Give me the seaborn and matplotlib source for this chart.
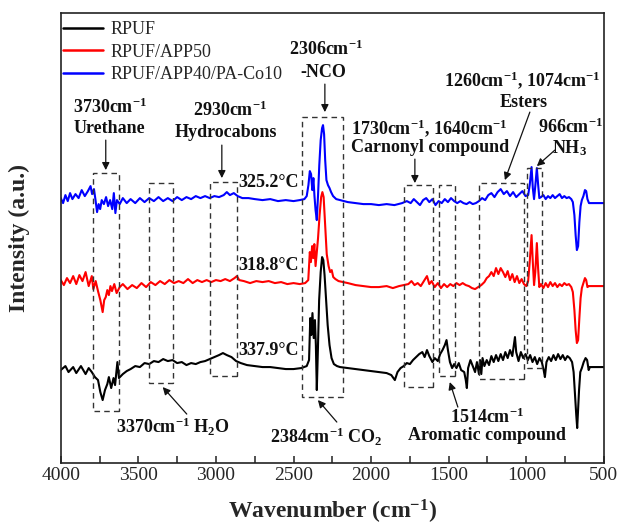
import numpy as np
import pandas as pd
import matplotlib
matplotlib.use("Agg")
import matplotlib.pyplot as plt
from matplotlib.patches import Rectangle
import seaborn as sns

# ---------------- data ----------------
samples = ["RPUF", "RPUF/APP50", "RPUF/APP40/PA-Co10"]
colors = ["#000000", "#ff0000", "#0000ff"]
temps = ["337.9°C", "318.8°C", "325.2°C"]

black_wn = [4000, 3970, 3950, 3920, 3900, 3870, 3840, 3820, 3800, 3780, 3760, 3745, 3730, 3715,
            3700, 3690, 3675, 3660, 3650, 3635, 3625, 3600, 3575, 3550, 3520, 3490, 3460, 3430,
            3400, 3370, 3340, 3310, 3280, 3250, 3220, 3190, 3160, 3130, 3100, 3070, 3040, 3010,
            2980, 2955, 2930, 2900, 2870, 2840, 2800, 2750, 2700, 2650, 2600, 2550, 2500, 2450,
            2415, 2400, 2392, 2386, 2378, 2370, 2362, 2356, 2350, 2343, 2335, 2325, 2316, 2308,
            2300, 2290, 2280, 2268, 2255, 2240, 2220, 2200, 2150, 2100, 2050, 2000, 1950, 1900,
            1870, 1847, 1830, 1810, 1790, 1770, 1750, 1730, 1710, 1690, 1670, 1655, 1640, 1625,
            1605, 1590, 1570, 1555, 1540, 1525, 1514, 1505, 1492, 1478, 1465, 1450, 1435, 1420,
            1400, 1390, 1383, 1375, 1360, 1345, 1330, 1318, 1305, 1298, 1290, 1282, 1270, 1255,
            1240, 1225, 1210, 1195, 1180, 1165, 1150, 1135, 1120, 1105, 1090, 1080, 1073, 1065,
            1050, 1035, 1020, 1005, 990, 975, 960, 945, 930, 915, 900, 888, 880, 870, 855, 840,
            825, 810, 795, 780, 765, 750, 735, 720, 705, 695, 686, 678, 672, 666, 660, 652, 642,
            630, 618, 608, 598, 590, 580, 500]
black_int = [-2, 2, -4, 1, -5, 2, -6, 0, -4, -9, -12, -24, -32, -22,
             -16, -9, -20, -10, -17, 6, -10, -6, -3, -1, 2, 1, 5, 4,
             7, 6, 9, 7, 8, 5, 6, 3, 5, 4, 6, 7, 9, 11,
             13, 15, 13, 11, 7, 5, 3, 2, 1, 1, 0, -1, -1, 0,
             2, 8, 50, 33, 55, 30, 48, 23, -22, 18, 68, 96, 111, 108,
             93, 68, 43, 23, 10, 4, 2, 1, 0, -1, -2, -3, -4, -5,
             -7, -12, -4, 0, 2, 5, 4, 8, 11, 14, 16, 11, 18, 12,
             6, 10, 7, 14, 18, 23, 28, 18, 6, 0, 4, 0, 5, -2,
             -4, -12, -20, 0, 8, 2, -4, 6, -6, 8, -6, 10, 2, 8,
             3, 12, 6, 13, 7, 14, 8, 16, 10, 18, 12, 23, 31, 16,
             7, 16, 10, 14, 8, 13, 6, 11, 4, 10, 6, -2, -9, 6, 11, 7,
             13, 8, 14, 9, 13, 8, 12, 10, 6, -4, -27, -47, -60, -42, -22, -4, 0,
             6, 10, 8, -2, 1, 1, 1]

red_wn = [4000, 3980, 3960, 3940, 3920, 3900, 3880, 3860, 3840, 3820, 3800, 3790, 3775, 3760,
          3745, 3730, 3720, 3710, 3700, 3690, 3680, 3670, 3655, 3640, 3620, 3600, 3570, 3540,
          3510, 3480, 3450, 3420, 3390, 3360, 3330, 3300, 3270, 3240, 3210, 3180, 3150, 3120,
          3090, 3060, 3030, 3000, 2970, 2940, 2910, 2880, 2865, 2850, 2820, 2780, 2740, 2700,
          2660, 2620, 2580, 2540, 2500, 2460, 2425, 2405, 2395, 2388, 2380, 2373, 2366, 2358,
          2350, 2342, 2332, 2322, 2314, 2306, 2296, 2286, 2274, 2264, 2254, 2244, 2230, 2210,
          2180, 2150, 2100, 2050, 2000, 1950, 1900, 1860, 1820, 1790, 1760, 1740, 1720, 1700,
          1680, 1660, 1640, 1625, 1610, 1590, 1570, 1550, 1530, 1510, 1490, 1470, 1450, 1430,
          1410, 1390, 1370, 1350, 1330, 1310, 1290, 1270, 1255, 1240, 1225, 1210, 1195, 1180,
          1165, 1150, 1135, 1120, 1105, 1090, 1075, 1060, 1045, 1030, 1015, 1000, 988, 978,
          966, 958, 950, 942, 932, 924, 916, 905, 890, 875, 860, 845, 830, 815, 800, 785, 770,
          755, 740, 725, 710, 700, 690, 682, 674, 666, 658, 650, 642, 632, 622, 614, 606, 596,
          500]
red_int = [3, -2, 5, 0, 7, -1, 8, 2, 11, -3, 7, -6, 2, -8,
           -17, -29, -17, -14, -7, -12, -3, -8, -1, -10, -4, -1, -6, -2,
           -5, 0, -4, 1, -2, 2, -1, 3, 0, 2, 0, 4, 0, 3,
           1, 3, 1, 3, 2, 4, 2, 5, 7, 3, 2, 0, 2, 1,
           2, 0, 1, -1, 0, -1, 0, 3, 31, 21, 37, 25, 39, 17,
           31, 45, 68, 86, 91, 86, 58, 29, 17, 11, 13, 6, 4, 2,
           1, 0, -2, -3, -4, -4, -3, -5, -3, -2, -1, 2, -2, 0,
           -3, 2, 7, -1, 2, -4, 0, -5, -1, -4, -1, -3, 0, -2,
           0, -2, -3, -5, -6, -4, -2, 1, 5, 7, 11, 7, 15, 9,
           15, 11, 6, 12, 3, 9, 1, 7, 0, 4, -1, -3, 2, 21,
           48, 21, -2, 11, 40, 15, -4, -1, -5, 0, -4, 1, -3, 0, -4, -1, -3,
           0, -2, -1, -4, -9, -27, -47, -60, -57, -35, -15, -5, 0, 5, 3, -4, -3,
           -3]

blue_wn = [4000, 3985, 3970, 3955, 3940, 3925, 3905, 3885, 3865, 3845, 3825, 3808, 3798, 3786,
           3776, 3766, 3756, 3746, 3736, 3722, 3708, 3695, 3682, 3668, 3658, 3648, 3638, 3620,
           3600, 3575, 3550, 3520, 3490, 3460, 3430, 3400, 3370, 3340, 3310, 3280, 3250, 3220,
           3190, 3160, 3130, 3100, 3070, 3040, 3010, 2980, 2950, 2930, 2910, 2885, 2860, 2830,
           2790, 2750, 2700, 2650, 2600, 2550, 2500, 2460, 2430, 2415, 2404, 2395, 2387, 2379,
           2372, 2365, 2358, 2350, 2342, 2334, 2325, 2316, 2310, 2303, 2296, 2288, 2278, 2268,
           2258, 2245, 2225, 2200, 2150, 2100, 2050, 2000, 1950, 1900, 1850, 1800, 1770, 1745,
           1725, 1705, 1685, 1665, 1645, 1625, 1605, 1585, 1565, 1545, 1525, 1505, 1485, 1465,
           1445, 1425, 1405, 1385, 1365, 1345, 1325, 1305, 1285, 1265, 1245, 1225, 1205, 1185,
           1165, 1145, 1125, 1105, 1085, 1065, 1045, 1025, 1005, 988, 978, 966, 958, 950, 942,
           932, 924, 916, 905, 890, 875, 860, 845, 830, 815, 800, 785, 770, 755, 740, 725, 710,
           700, 690, 682, 674, 666, 658, 650, 642, 632, 622, 614, 606, 596, 500]
blue_int = [2, -3, 5, -1, 7, 1, 6, 2, 10, 4, 9, 14, 6, 11,
            0, -12, -4, -9, 0, -4, 3, -6, 0, -9, 7, -13, 0, -4,
            2, -3, 1, -3, 2, -2, 2, -1, 3, -1, 2, -1, 3, 0,
            3, 1, 4, 2, 4, 2, 4, 3, 5, 8, 5, 7, 4, 2,
            2, 1, 0, 1, -1, 0, -1, 0, 1, 4, 15, 29, 26, 10,
            22, 4, -10, -20, 5, 35, 60, 72, 75, 66, 40, 20, 15, 12,
            8, 4, 1, 0, -2, -3, -4, -4, -5, -4, -5, -3, -1, -3,
            1, -2, -5, 0, 2, -2, 1, -5, -1, -3, 1, -2, 2, -1,
            -3, -1, -3, -4, -2, -4, -3, -1, 2, 0, 5, 7, 3, 8,
            11, 6, 9, 4, 8, 3, 6, 9, 4, 5, 15, 33, 12, 1, 14,
            32, 16, 2, 3, 5, 1, 4, 2, 5, 2, 4, 6, 2, 4, 2, 3, 1,
            -2, -15, -35, -50, -46, -22, -6, 0, 4, 10, 9, 1, -3, -3]

xticks = [4000, 3500, 3000, 2500, 2000, 1500, 1000, 500]

# ---------------- styling / layout ----------------
offsets = {"RPUF": 95, "RPUF/APP50": 180, "RPUF/APP40/PA-Co10": 263}

sns.set_theme(style="ticks")
plt.rcParams["font.family"] = ["Liberation Serif", "DejaVu Serif"]
plt.rcParams["mathtext.fontset"] = "custom"
plt.rcParams["mathtext.rm"] = "Liberation Serif"
plt.rcParams["mathtext.bf"] = "Liberation Serif:bold"
plt.rcParams["mathtext.it"] = "Liberation Serif:italic"

frames = []
for name, wn, inten in zip(samples, [black_wn, red_wn, blue_wn], [black_int, red_int, blue_int]):
    frames.append(pd.DataFrame({"wn": wn, "y": np.array(inten) + offsets[name], "sample": name}))
df = pd.concat(frames, ignore_index=True)

fig = plt.figure(figsize=(6.2, 5.25), dpi=100)
ax = fig.add_axes([0.098, 0.118, 0.876, 0.857])

sns.lineplot(data=df, x="wn", y="y", hue="sample", hue_order=samples,
             palette=dict(zip(samples, colors)), estimator=None, sort=False,
             lw=1.5, ax=ax)

ax.set_xlim(4000, 500)
ax.set_ylim(0, 450)
ax.set_xticks(xticks)
ax.set_xticks(np.arange(3750, 500, -500), minor=True)
ax.set_xticklabels([str(t) for t in xticks], fontsize=14)
ax.set_yticks([])
ax.tick_params(axis="x", which="both", direction="in", length=5, width=1.1, pad=3, color="#222")
for s in ax.spines.values():
    s.set_linewidth(1.2)
    s.set_color("#222")
ax.set_xlabel(r"Wavenumber (cm$^{\mathbf{-1}}$)", fontsize=17, fontweight="bold", labelpad=10)
ax.set_ylabel("Intensity (a.u.)", fontsize=17, fontweight="bold", labelpad=22)

leg = ax.legend(loc="upper left", frameon=False, fontsize=13, handlelength=2.2,
                handletextpad=0.4, labelspacing=0.3, borderaxespad=0.0,
                borderpad=0.45, bbox_to_anchor=(-0.01, 1.0))
for lh in leg.get_lines():
    lh.set_linewidth(1.8)

# dashed boxes (wn_left, wn_right, y_bottom, y_top)
boxes = [(3794, 3626, 52, 290), (3433, 3278, 80, 280), (3040, 2866, 87, 281),
         (2447, 2182, 66, 346), (1789, 1602, 76, 278), (1563, 1460, 87, 278),
         (1306, 1016, 84, 280), (996, 899, 95, 295)]
for x0, x1, y0, y1 in boxes:
    ax.add_patch(Rectangle((x1, y0), x0 - x1, y1 - y0, fill=False, ls=(0, (4, 3)),
                           lw=1.0, ec="#333333", zorder=3))

tk = dict(fontweight="bold", fontsize=13, ha="center", va="center", color="#111")
cm = r"cm$^{\mathbf{-1}}$"
ax.text(3680, 356, "3730" + cm, **tk)
ax.text(3684, 335, "Urethane", **tk)
ax.text(2911, 353, "2930" + cm, **tk)
ax.text(2936, 331, "Hydrocabons", **tk)
ax.text(2292, 414, "2306" + cm, **tk)
ax.text(2311, 391, "-NCO", **tk)
ax.text(1628, 335, "1730" + cm + ", 1640" + cm, **tk)
ax.text(1621, 316, "Carnonyl compound", **tk)
ax.text(1028, 383, "1260" + cm + ", 1074" + cm, **tk)
ax.text(1015, 361, "Esters", **tk)
ax.text(713, 336, "966" + cm, **tk)
ax.text(719, 315, r"NH$_{\mathbf{3}}$", **tk)
ax.text(3278, 36, "3370" + cm + r" H$_{\mathbf{2}}$O", **tk)
ax.text(2292, 26, "2384" + cm + r" CO$_{\mathbf{2}}$", **tk)
ax.text(1254, 46, "1514" + cm, **tk)
ax.text(1254, 28, "Aromatic compound", **tk)

for name, t in zip(samples, temps):
    ax.text(2859, offsets[name] + 18, t, fontweight="bold", fontsize=13,
            ha="left", va="center", color="#111")

arr = dict(arrowstyle="-|>", color="#111", lw=0.9, mutation_scale=11, shrinkA=0, shrinkB=0)
arrows = [((3710, 323), (3710, 293)), ((2962, 318), (2962, 285)),
          ((2298, 379), (2298, 351)), ((1718, 304), (1718, 280)),
          ((977, 351), (1138, 283)), ((816, 313), (932, 297)),
          ((3188, 49), (3343, 76)), ((2221, 41), (2343, 63)),
          ((1441, 56), (1493, 81))]
for start, end in arrows:
    ax.annotate("", xy=end, xytext=start, arrowprops=arr)

fig.savefig("out.png", dpi=100)
